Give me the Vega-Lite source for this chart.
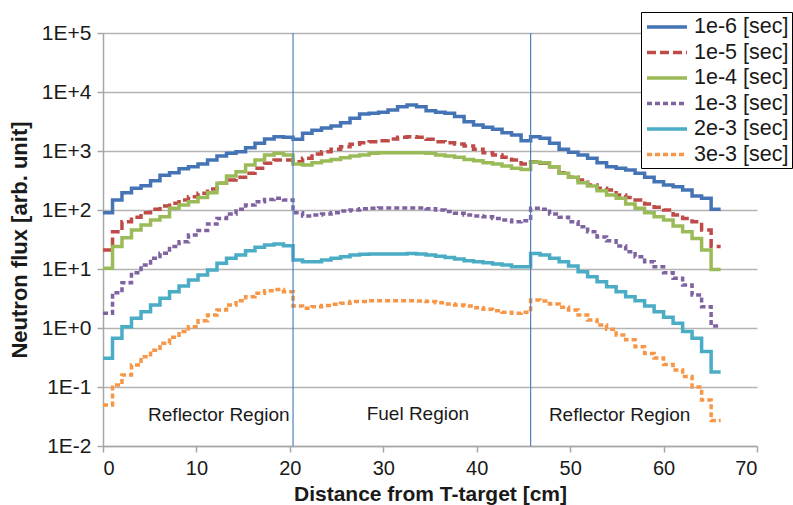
{
  "$schema": "https://vega.github.io/schema/vega-lite/v6.json",
  "width": 654,
  "height": 413,
  "autosize": "none",
  "padding": {"left": 103, "top": 33, "right": 36, "bottom": 59},
  "background": "white",
  "config": {
    "font": "Liberation Sans",
    "view": {"stroke": null},
    "axis": {"labelColor": "#1a1a1a", "titleColor": "#1a1a1a", "domainColor": "#a6a6a6", "tickColor": "#a6a6a6", "domainWidth": 1.5, "tickWidth": 1.5}
  },
  "layer": [
    {
      "data": {"values": [
        {"x":0,"s1":90,"s2":21,"s3":10.3,"s4":1.78,"s5":0.306,"s6":0.0495},
        {"x":1.02,"s1":148,"s2":43,"s3":24,"s4":3.97,"s5":0.67,"s6":0.108},
        {"x":2.03,"s1":196,"s2":63,"s3":34,"s4":5.86,"s5":1.05,"s6":0.16},
        {"x":3.05,"s1":233,"s2":75,"s3":45.7,"s4":8.65,"s5":1.46,"s6":0.236},
        {"x":4.07,"s1":258,"s2":90,"s3":55.6,"s4":11.7,"s5":1.89,"s6":0.327},
        {"x":5.09,"s1":314,"s2":103,"s3":67.5,"s4":15.2,"s5":2.45,"s6":0.42},
        {"x":6.10,"s1":387,"s2":117,"s3":77,"s4":18.5,"s5":3.19,"s6":0.55},
        {"x":7.12,"s1":430,"s2":130,"s3":107,"s4":24,"s5":4.13,"s6":0.70},
        {"x":8.14,"s1":501,"s2":148,"s3":121,"s4":29,"s5":5.15,"s6":0.87},
        {"x":9.15,"s1":542,"s2":168,"s3":138,"s4":37.7,"s5":6.5,"s6":1.05},
        {"x":10.17,"s1":602,"s2":192,"s3":163,"s4":45,"s5":7.9,"s6":1.33},
        {"x":11.19,"s1":703,"s2":227,"s3":196,"s4":58,"s5":9.6,"s6":1.66},
        {"x":12.20,"s1":822,"s2":283,"s3":283,"s4":72,"s5":12.5,"s6":2.02},
        {"x":13.22,"s1":913,"s2":322,"s3":377,"s4":85.5,"s5":15.2,"s6":2.45},
        {"x":14.24,"s1":973,"s2":358,"s3":446,"s4":103,"s5":17.3,"s6":2.9},
        {"x":15.26,"s1":1136,"s2":419,"s3":578,"s4":121,"s5":20.4,"s6":3.4},
        {"x":16.27,"s1":1350,"s2":508,"s3":703,"s4":138,"s5":23.3,"s6":3.87},
        {"x":17.29,"s1":1597,"s2":618,"s3":855,"s4":151,"s5":25.5,"s6":4.28},
        {"x":18.31,"s1":1747,"s2":703,"s3":913,"s4":158,"s5":26.5,"s6":4.5},
        {"x":19.32,"s1":1707,"s2":703,"s3":855,"s4":148,"s5":24.8,"s6":4.13},
        {"x":20.34,"s1":1580,"s2":659,"s3":602,"s4":90,"s5":14.2,"s6":2.36},
        {"x":21.36,"s1":2000,"s2":751,"s3":578,"s4":79,"s5":13.3,"s6":2.16},
        {"x":22.37,"s1":2250,"s2":889,"s3":634,"s4":82,"s5":13.3,"s6":2.3},
        {"x":23.39,"s1":2450,"s2":973,"s3":676,"s4":85.5,"s5":14.2,"s6":2.4},
        {"x":24.41,"s1":2650,"s2":1070,"s3":720,"s4":90,"s5":15.2,"s6":2.52},
        {"x":25.43,"s1":3020,"s2":1183,"s3":770,"s4":96,"s5":16.1,"s6":2.62},
        {"x":26.44,"s1":3580,"s2":1297,"s3":822,"s4":100,"s5":17.3,"s6":2.8},
        {"x":27.46,"s1":4230,"s2":1383,"s3":855,"s4":105,"s5":17.7,"s6":2.8},
        {"x":28.48,"s1":4350,"s2":1438,"s3":913,"s4":107,"s5":17.9,"s6":2.9},
        {"x":29.49,"s1":4530,"s2":1495,"s3":936,"s4":108,"s5":17.9,"s6":2.9},
        {"x":30.51,"s1":4930,"s2":1597,"s3":936,"s4":108,"s5":17.9,"s6":2.9},
        {"x":31.53,"s1":5630,"s2":1707,"s3":936,"s4":108,"s5":17.9,"s6":2.9},
        {"x":32.54,"s1":6030,"s2":1747,"s3":936,"s4":108,"s5":18.4,"s6":2.9},
        {"x":33.56,"s1":5630,"s2":1707,"s3":936,"s4":108,"s5":17.9,"s6":2.88},
        {"x":34.58,"s1":4820,"s2":1578,"s3":913,"s4":105,"s5":17.3,"s6":2.8},
        {"x":35.60,"s1":4530,"s2":1438,"s3":855,"s4":100,"s5":16.5,"s6":2.69},
        {"x":36.61,"s1":4350,"s2":1383,"s3":822,"s4":94,"s5":15.6,"s6":2.55},
        {"x":37.63,"s1":3830,"s2":1315,"s3":782,"s4":88,"s5":14.8,"s6":2.45},
        {"x":38.65,"s1":3140,"s2":1216,"s3":720,"s4":82,"s5":13.8,"s6":2.36},
        {"x":39.66,"s1":2770,"s2":1070,"s3":684,"s4":79,"s5":13.3,"s6":2.21},
        {"x":40.68,"s1":2520,"s2":936,"s3":634,"s4":77,"s5":12.8,"s6":2.07},
        {"x":41.70,"s1":2330,"s2":855,"s3":602,"s4":72,"s5":12.2,"s6":1.96},
        {"x":42.71,"s1":2040,"s2":782,"s3":555,"s4":67.5,"s5":11.7,"s6":1.85},
        {"x":43.73,"s1":1870,"s2":703,"s3":508,"s4":63,"s5":10.9,"s6":1.78},
        {"x":44.75,"s1":1495,"s2":600,"s3":488,"s4":66,"s5":10.9,"s6":1.85},
        {"x":45.77,"s1":1750,"s2":660,"s3":650,"s4":107,"s5":18.4,"s6":2.98},
        {"x":46.78,"s1":1640,"s2":618,"s3":634,"s4":103,"s5":17.3,"s6":2.87},
        {"x":47.80,"s1":1350,"s2":542,"s3":542,"s4":85.5,"s5":15.2,"s6":2.55},
        {"x":48.82,"s1":1070,"s2":430,"s3":419,"s4":75,"s5":13.3,"s6":2.24},
        {"x":49.83,"s1":950,"s2":358,"s3":358,"s4":63,"s5":11.2,"s6":2.02},
        {"x":50.85,"s1":855,"s2":322,"s3":290,"s4":52,"s5":9.0,"s6":1.66},
        {"x":51.87,"s1":751,"s2":265,"s3":254,"s4":43,"s5":7.4,"s6":1.37},
        {"x":52.88,"s1":634,"s2":233,"s3":211,"s4":35,"s5":6.1,"s6":1.12},
        {"x":53.90,"s1":542,"s2":218,"s3":180,"s4":30,"s5":5.0,"s6":0.95},
        {"x":54.92,"s1":508,"s2":180,"s3":158,"s4":24.6,"s5":4.1,"s6":0.76},
        {"x":55.94,"s1":476,"s2":163,"s3":126,"s4":19.6,"s5":3.4,"s6":0.63},
        {"x":56.95,"s1":419,"s2":148,"s3":107,"s4":16.1,"s5":2.9,"s6":0.48},
        {"x":57.97,"s1":358,"s2":126,"s3":90,"s4":13.3,"s5":2.36,"s6":0.37},
        {"x":58.99,"s1":302,"s2":111,"s3":77,"s4":10.9,"s5":1.89,"s6":0.31},
        {"x":60.00,"s1":265,"s2":100,"s3":67.5,"s4":8.65,"s5":1.52,"s6":0.24},
        {"x":61.02,"s1":248,"s2":82,"s3":53.5,"s4":6.95,"s5":1.2,"s6":0.194},
        {"x":62.04,"s1":218,"s2":72,"s3":43,"s4":5.35,"s5":0.87,"s6":0.15},
        {"x":63.05,"s1":173,"s2":63,"s3":33,"s4":3.62,"s5":0.67,"s6":0.10},
        {"x":64.07,"s1":158,"s2":45.7,"s3":21,"s4":2.3,"s5":0.40,"s6":0.06},
        {"x":65.09,"s1":103,"s2":24,"s3":9.8,"s4":1.08,"s5":0.18,"s6":0.027},
        {"x":66.11,"s1":103,"s2":24,"s3":9.8,"s4":1.08,"s5":0.18,"s6":0.027}
      ]},
      "transform": [{"fold": ["s1","s2","s3","s4","s5","s6"], "as": ["series","flux"]}],
      "mark": {"type": "line", "interpolate": "step-after", "clip": true},
      "encoding": {
        "x": {
          "field": "x", "type": "quantitative",
          "scale": {"domain": [0, 70], "nice": false, "zero": false},
          "axis": {"values": [0,10,20,30,40,50,60,70], "grid": false, "tickSize": 6, "labelFontSize": 20, "labelPadding": 6, "title": "Distance from T-target [cm]", "titleFontSize": 21, "titleFontWeight": "bold", "titlePadding": 5}
        },
        "y": {
          "field": "flux", "type": "quantitative",
          "scale": {"type": "log", "domain": [0.01, 100000], "nice": false},
          "axis": {"values": [0.01,0.1,1,10,100,1000,10000,100000], "grid": true, "gridColor": "#b3b3b3", "gridWidth": 1.5, "tickSize": 6, "labelFontSize": 21, "labelPadding": 6,
            "labelExpr": "'1E' + (datum.value >= 1 ? '+' : '-') + abs(round(log(datum.value) / LN10))",
            "title": "Neutron flux [arb. unit]", "titleFontSize": 22, "titleFontWeight": "bold", "titlePadding": 10}
        },
        "color": {
          "field": "series", "type": "nominal",
          "scale": {"domain": ["s1","s2","s3","s4","s5","s6"], "range": ["#4574B6","#BE4B48","#9BBB59","#7F63A1","#4BACC6","#F79646"]},
          "legend": {
            "orient": "none", "legendX": 538, "legendY": -21, "title": null,
            "symbolType": "M-2,0H2", "symbolSize": 400, "symbolOffset": 11, "labelFontSize": 21.5, "labelColor": "#1a1a1a",
            "labelOffset": 15, "rowPadding": 2.5, "padding": 3,
            "strokeColor": "#000000", "fillColor": "#ffffff",
            "labelExpr": "datum.label == 's1' ? '1e-6 [sec]' : datum.label == 's2' ? '1e-5 [sec]' : datum.label == 's3' ? '1e-4 [sec]' : datum.label == 's4' ? '1e-3 [sec]' : datum.label == 's5' ? '2e-3 [sec]' : '3e-3 [sec]'"
          }
        },
        "strokeDash": {
          "field": "series", "type": "nominal",
          "scale": {"domain": ["s1","s2","s3","s4","s5","s6"], "range": [[1,0],[9,4],[1,0],[5,3],[1,0],[5,3]]},
          "legend": null
        },
        "strokeWidth": {
          "field": "series", "type": "nominal",
          "scale": {"domain": ["s1","s2","s3","s4","s5","s6"], "range": [3.5,3.5,2,2,2,2]},
          "legend": null
        }
      }
    },
    {
      "data": {"values": [{"b": 20.34}, {"b": 45.77}]},
      "mark": {"type": "rule", "color": "#4F81BD", "strokeWidth": 1.2},
      "encoding": {"x": {"field": "b", "type": "quantitative"}}
    },
    {
      "data": {"values": [
        {"x": 12.4, "y": 0.0336, "t": "Reflector Region"},
        {"x": 33.7, "y": 0.0345, "t": "Fuel Region"},
        {"x": 55.3, "y": 0.0336, "t": "Reflector Region"}
      ]},
      "mark": {"type": "text", "fontSize": 19, "color": "#1a1a1a", "align": "center", "baseline": "middle"},
      "encoding": {
        "x": {"field": "x", "type": "quantitative"},
        "y": {"field": "y", "type": "quantitative"},
        "text": {"field": "t"}
      }
    }
  ]
}
